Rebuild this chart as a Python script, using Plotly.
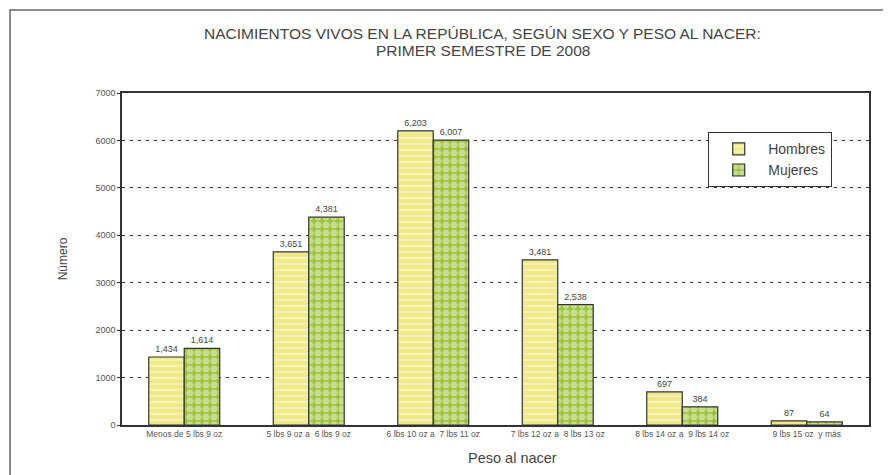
import plotly.graph_objects as go

categorias = ["Menos de 5 lbs 9 oz", "5 lbs 9 oz a  6 lbs 9 oz", "6 lbs 10 oz a  7 lbs 11 oz",
              "7 lbs 12 oz a  8 lbs 13 oz", "8 lbs 14 oz a  9 lbs 14 oz", "9 lbs 15 oz  y más"]
hombres = [1434, 3651, 6203, 3481, 697, 87]
mujeres = [1614, 4381, 6007, 2538, 384, 64]
y_ticks = [0, 1000, 2000, 3000, 4000, 5000, 6000, 7000]
titulo_1 = "NACIMIENTOS VIVOS EN LA REPÚBLICA, SEGÚN SEXO Y PESO AL NACER:"
titulo_2 = "PRIMER SEMESTRE DE 2008"

FONT = "Liberation Sans, Arial, sans-serif"

fig = go.Figure()
fig.add_trace(go.Bar(
    name="Hombres", x=categorias, y=hombres,
    text=[f"{v:,}" for v in hombres], textposition="outside",
    textfont=dict(size=9, color="#444"), cliponaxis=False,
    marker=dict(color="#f3ef9a", line=dict(color="#333", width=1.2),
                pattern=dict(shape="-", fgcolor="#fbf9dc", bgcolor="#efe98a",
                             size=6, solidity=0.35, fillmode="overlay")),
))
fig.add_trace(go.Bar(
    name="Mujeres", x=categorias, y=mujeres,
    text=[f"{v:,}" for v in mujeres], textposition="outside",
    textfont=dict(size=9, color="#444"), cliponaxis=False,
    marker=dict(color="#a6c94a", line=dict(color="#333", width=1.2),
                pattern=dict(shape=".", fgcolor="#f4f6e4", bgcolor="#9cc33c",
                             size=8, solidity=0.6, fillmode="overlay")),
))

fig.update_layout(
    width=883, height=467,
    margin=dict(l=114, r=22, t=85, b=50),
    paper_bgcolor="#ffffff", plot_bgcolor="#ffffff",
    font=dict(family=FONT, color="#444"),
    barmode="group", bargap=0.43, bargroupgap=0,
    showlegend=True,
    legend=dict(x=0.7845, y=0.8825, xanchor="left", yanchor="top",
                bgcolor="#ffffff", bordercolor="#333", borderwidth=1.2,
                font=dict(size=14, color="#444"), entrywidth=150,
                itemwidth=49),
    xaxis=dict(showline=True, linecolor="#333", linewidth=1.5, mirror=True,
               tickfont=dict(size=8.5, color="#555"), ticks=""),
    yaxis=dict(range=[0, 7000], tickvals=y_ticks, ticktext=[str(v) for v in y_ticks],
               showline=True, linecolor="#333", linewidth=1.5, mirror=True,
               ticks="outside", ticklen=3, tickcolor="#333",
               tickfont=dict(size=9, color="#555"),
               showgrid=True, gridcolor="#333", griddash="3px,5px", gridwidth=1,
               zeroline=False,
               title=dict(text="Número", font=dict(size=12, color="#444"), standoff=25)),
    annotations=[
        dict(text=titulo_1, xref="paper", yref="paper", x=0.4826, y=1.1807,
             xanchor="center", yanchor="middle", showarrow=False,
             font=dict(size=15.5, color="#444", family=FONT)),
        dict(text=titulo_2, xref="paper", yref="paper", x=0.4826, y=1.1295,
             xanchor="center", yanchor="middle", showarrow=False,
             font=dict(size=15.5, color="#444", family=FONT)),
        dict(text="Peso al nacer", xref="paper", yref="paper", x=0.523, y=-0.0994,
             xanchor="center", yanchor="middle", showarrow=False,
             font=dict(size=14.5, color="#444", family=FONT)),
    ],
)

fig.add_shape(type="rect", xref="paper", yref="paper",
              x0=-0.1499, x1=1.06, y0=-0.2, y1=1.25,
              line=dict(color="#666", width=1.5), layer="below")

fig.write_html("out.html")
